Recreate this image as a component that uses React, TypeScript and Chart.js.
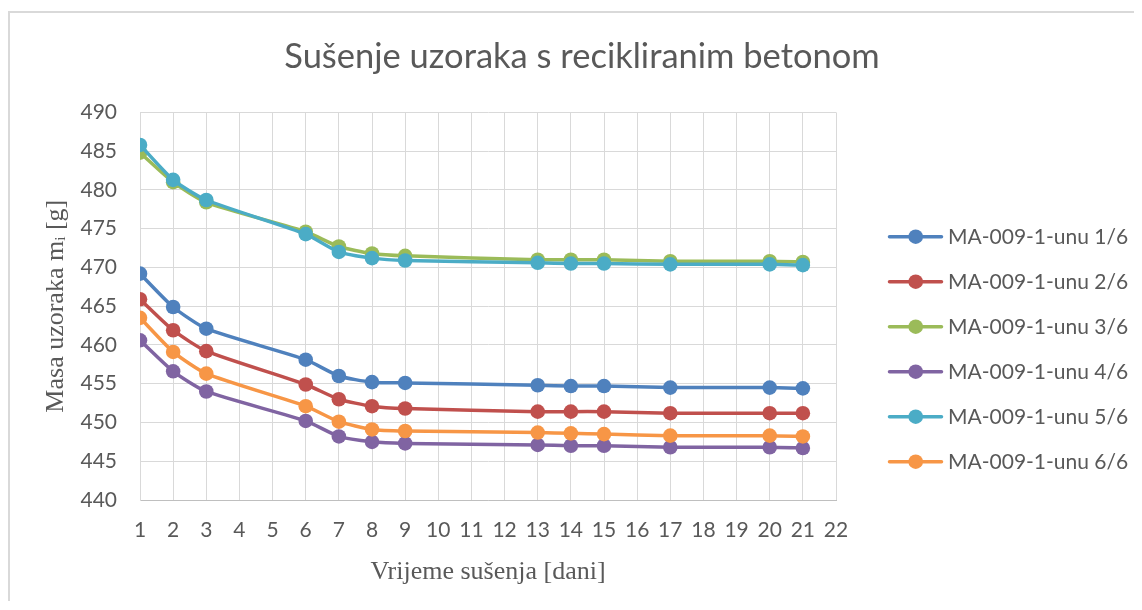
import React, { useEffect, useRef } from 'react';
import { Chart, registerables } from 'chart.js';

Chart.register(...registerables);

const days = [1, 2, 3, 6, 7, 8, 9, 13, 14, 15, 17, 20, 21];
const seriesNames = [
  'MA-009-1-unu 1/6',
  'MA-009-1-unu 2/6',
  'MA-009-1-unu 3/6',
  'MA-009-1-unu 4/6',
  'MA-009-1-unu 5/6',
  'MA-009-1-unu 6/6',
];
const unu1 = [469.2, 464.9, 462.1, 458.1, 456.0, 455.2, 455.1, 454.8, 454.7, 454.7, 454.5, 454.5, 454.4];
const unu2 = [465.9, 461.9, 459.2, 454.9, 453.0, 452.1, 451.8, 451.4, 451.4, 451.4, 451.2, 451.2, 451.2];
const unu3 = [484.8, 481.0, 478.4, 474.6, 472.7, 471.8, 471.5, 471.0, 471.0, 471.0, 470.8, 470.8, 470.7];
const unu4 = [460.6, 456.6, 454.0, 450.2, 448.2, 447.5, 447.3, 447.1, 447.0, 447.0, 446.8, 446.8, 446.7];
const unu5 = [485.8, 481.3, 478.7, 474.3, 472.0, 471.2, 470.9, 470.6, 470.5, 470.5, 470.4, 470.4, 470.3];
const unu6 = [463.5, 459.1, 456.3, 452.1, 450.1, 449.1, 448.9, 448.7, 448.6, 448.5, 448.3, 448.3, 448.2];
const seriesValues = [unu1, unu2, unu3, unu4, unu5, unu6];
const colors = ['#4F81BD', '#C0504D', '#9BBB59', '#8064A2', '#4BACC6', '#F79646'];

const chartTitle = 'Sušenje uzoraka s recikliranim betonom';
const xTitle = 'Vrijeme sušenja [dani]';
const yTitle = 'Masa uzoraka mᵢ [g]';

const TEXT = '#595959';
const GRID = '#d9d9d9';

const legendPlugin = {
  id: 'excelLegend',
  afterDraw(chart: any) {
    const ctx = chart.ctx;
    ctx.save();
    chart.data.datasets.forEach((ds: any, i: number) => {
      const y = 223.7 + 45 * i;
      ctx.strokeStyle = ds.borderColor;
      ctx.lineWidth = 3.5;
      ctx.lineCap = 'round';
      ctx.beginPath();
      ctx.moveTo(879.5, y);
      ctx.lineTo(931.5, y);
      ctx.stroke();
      ctx.fillStyle = ds.borderColor;
      ctx.beginPath();
      ctx.arc(905.7, y, 7.3, 0, Math.PI * 2);
      ctx.fill();
      ctx.fillStyle = TEXT;
      ctx.font = '21px Lato';
      ctx.textBaseline = 'middle';
      ctx.textAlign = 'left';
      ctx.fillText(ds.label, 938, y + 1);
    });
    ctx.restore();
  },
};

export default function App() {
  const ref = useRef<HTMLCanvasElement | null>(null);

  useEffect(() => {
    if (!ref.current) return;
    const datasets = seriesValues.map((vals, i) => ({
      label: seriesNames[i],
      data: days.map((d, j) => ({ x: d, y: vals[j] })),
      borderColor: colors[i],
      backgroundColor: colors[i],
      borderWidth: 3.5,
      pointRadius: 7.3,
      pointBorderWidth: 0,
      pointHoverRadius: 7.3,
      tension: 0.2,
      order: 5 - i,
      fill: false,
    }));
    const chart = new Chart(ref.current, {
      type: 'line',
      data: { datasets },
      plugins: [legendPlugin],
      options: {
        animation: false,
        responsive: false,
        events: [],
        layout: { padding: 0 },
        plugins: {
          legend: { display: false },
          tooltip: { enabled: false },
          title: {
            display: true,
            text: chartTitle,
            color: TEXT,
            font: { family: 'Lato', size: 34.5, weight: 'normal' },
            padding: { top: 23.5, bottom: 34.5 },
          },
        },
        scales: {
          x: {
            type: 'linear',
            min: 1,
            max: 22,
            ticks: {
              stepSize: 1,
              color: TEXT,
              font: { family: 'Lato', size: 21 },
              padding: 18,
              maxRotation: 0,
              autoSkip: false,
            },
            grid: { color: GRID, lineWidth: 1, drawTicks: false },
            border: { color: '#bfbfbf', width: 1 },
            title: {
              display: true,
              text: xTitle,
              color: TEXT,
              font: { family: 'Liberation Serif', size: 26, weight: 'normal' },
              padding: { top: 0, bottom: 13 },
            },
            afterFit: (s: any) => {
              s.height = 101;
            },
          },
          y: {
            type: 'linear',
            min: 440,
            max: 490,
            ticks: {
              stepSize: 5,
              color: TEXT,
              font: { family: 'Lato', size: 21 },
              padding: 23,
            },
            grid: { color: GRID, lineWidth: 1, drawTicks: false },
            border: { color: GRID, width: 1 },
            title: {
              display: true,
              text: yTitle,
              color: TEXT,
              font: { family: 'Liberation Serif', size: 26, weight: 'normal' },
              padding: { top: 31, bottom: 0 },
            },
            afterFit: (s: any) => {
              s.width = 130;
            },
          },
          legendSpace: {
            type: 'linear',
            position: 'right',
            display: true,
            grid: { display: false, drawTicks: false },
            border: { display: false },
            ticks: { display: false },
            afterFit: (s: any) => {
              s.width = 318;
            },
          },
        },
      },
    } as any);
    return () => chart.destroy();
  }, []);

  return (
    <div style={{ paddingTop: 3 }}>
      <div
        style={{
          width: 1126,
          height: 590,
          boxSizing: 'border-box',
          borderLeft: `2px solid ${GRID}`,
          borderTop: `2px solid ${GRID}`,
          overflow: 'hidden',
        }}
      >
        <canvas ref={ref} width={1144} height={588} style={{ display: 'block' }} />
      </div>
    </div>
  );
}
